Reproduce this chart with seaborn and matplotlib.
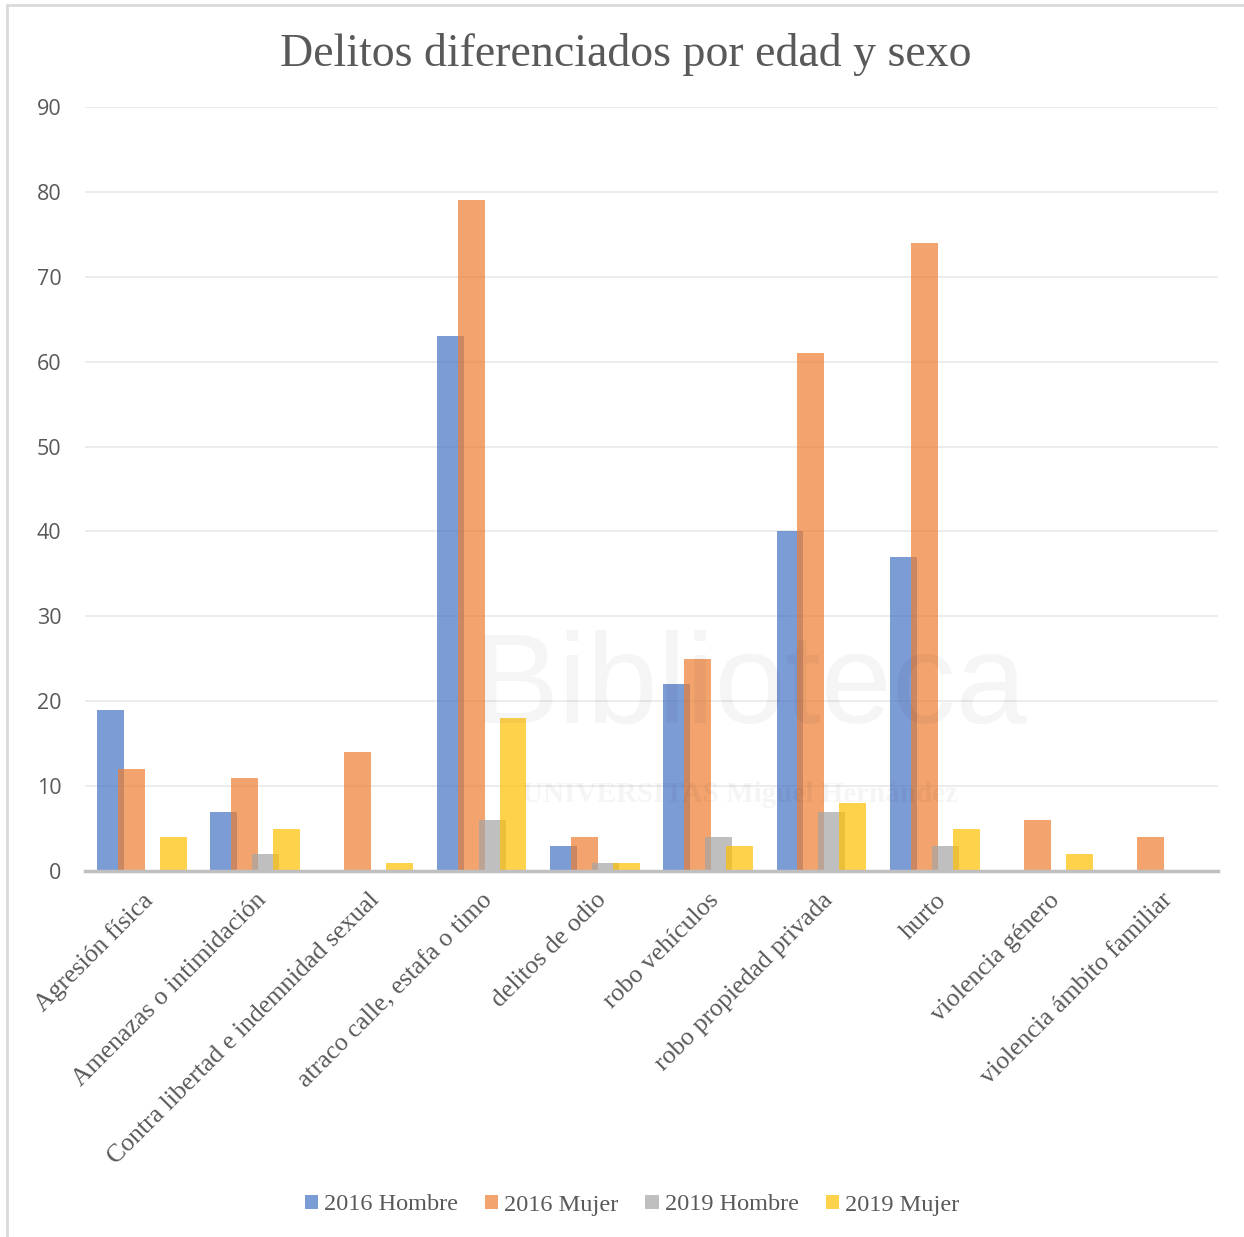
import matplotlib
matplotlib.use("Agg")
import matplotlib.pyplot as plt
from matplotlib.patches import Patch, Rectangle
import seaborn as sns
import pandas as pd

# Crime categories and counts per year / sex
categorias = [
    "Agresión física",
    "Amenazas o intimidación",
    "Contra libertad e indemnidad sexual",
    "atraco calle, estafa o timo",
    "delitos de odio",
    "robo vehículos",
    "robo propiedad privada",
    "hurto",
    "violencia género",
    "violencia ámbito familiar",
]
hombre_2016 = [19, 7, 0, 63, 3, 22, 40, 37, 0, 0]
mujer_2016 = [12, 11, 14, 79, 4, 25, 61, 74, 6, 4]
hombre_2019 = [0, 2, 0, 6, 1, 4, 7, 3, 0, 0]
mujer_2019 = [4, 5, 1, 18, 1, 3, 8, 5, 2, 0]
series = ["2016 Hombre", "2016 Mujer", "2019 Hombre", "2019 Mujer"]
colores = ["#4472C4", "#ED7D31", "#A5A5A5", "#FFC000"]

valores = [hombre_2016, mujer_2016, hombre_2019, mujer_2019]
df = pd.DataFrame(
    [(c, s, v) for s, vals in zip(series, valores) for c, v in zip(categorias, vals)],
    columns=["categoria", "serie", "valor"],
)

sns.set_theme(style="white")
plt.rcParams["font.family"] = ["DejaVu Sans"]

W, H = 1244, 1237
fig = plt.figure(figsize=(W / 100, H / 100), dpi=100)
ax = fig.add_axes([85 / W, 1 - 871 / H, 1133 / W, 764 / H])

sns.barplot(
    data=df, x="categoria", y="valor", hue="serie", order=categorias,
    hue_order=series, palette=colores, saturation=1, width=0.74, alpha=0.7,
    linewidth=0, errorbar=None, ax=ax, zorder=3,
)

# Widen each bar so neighbouring series overlap slightly
for bar in ax.patches:
    w = bar.get_width()
    nw = w * 27 / 21
    bar.set_x(bar.get_x() - (nw - w) / 2)
    bar.set_width(nw)

ax.legend_.remove()
ax.set_xlim(-0.5, len(categorias) - 0.5)
ax.set_ylim(0, 90)
ax.set_yticks(range(0, 91, 10))
ax.set_xlabel("")
ax.set_ylabel("")
ax.grid(axis="y", color="#EBEBEB", linewidth=1.3, zorder=0)
ax.set_axisbelow(True)
for s in ["top", "left", "right"]:
    ax.spines[s].set_visible(False)
ax.spines["bottom"].set_color("#BFBFBF")
ax.spines["bottom"].set_linewidth(2.5)
ax.spines["bottom"].set_zorder(4)

ax.tick_params(axis="y", length=0, pad=17, labelsize=15.5, labelcolor="#595959")
for t in ax.get_yticklabels():
    t.set_fontfamily("Open Sans")
ax.tick_params(axis="x", length=0, pad=13)
ax.set_xticks(range(len(categorias)))
ax.set_xticklabels(categorias, rotation=45, ha="right", rotation_mode="anchor",
                   fontsize=18.5, color="#595959", family="Liberation Serif")

# Title
fig.text(0.503, 1 - 55 / H, "Delitos diferenciados por edad y sexo",
         ha="center", va="center", fontsize=33, color="#595959",
         family="Liberation Serif")

# Faint library watermark
fig.text(750 / W, 1 - 690 / H, "Biblioteca", ha="center", va="center",
         fontsize=92, color="#000000", alpha=0.04, family="Liberation Sans",
         zorder=0)
fig.text(740 / W, 1 - 795 / H, "UNIVERSITAS Miguel Hernández", ha="center",
         va="center", fontsize=21, color="#000000", alpha=0.04,
         family="Liberation Serif", fontweight="bold", zorder=0)

# Legend
handles = [Patch(facecolor=c, alpha=0.7, linewidth=0) for c in colores]
fig.legend(handles, series, loc="center", bbox_to_anchor=(0.508, 1 - 1205 / H),
           ncol=4, frameon=False, handlelength=0.55, handleheight=0.55,
           handletextpad=0.25, columnspacing=1.1,
           prop={"family": "Liberation Serif", "size": 17.5},
           labelcolor="#595959")

# Chart area border
fig.patches.append(Rectangle((7 / W, -0.01), 1.05, 1 - 5 / H + 0.01,
                             transform=fig.transFigure, fill=False,
                             edgecolor="#D9D9D9", linewidth=2, zorder=0))

fig.savefig("out.png", dpi=100)
